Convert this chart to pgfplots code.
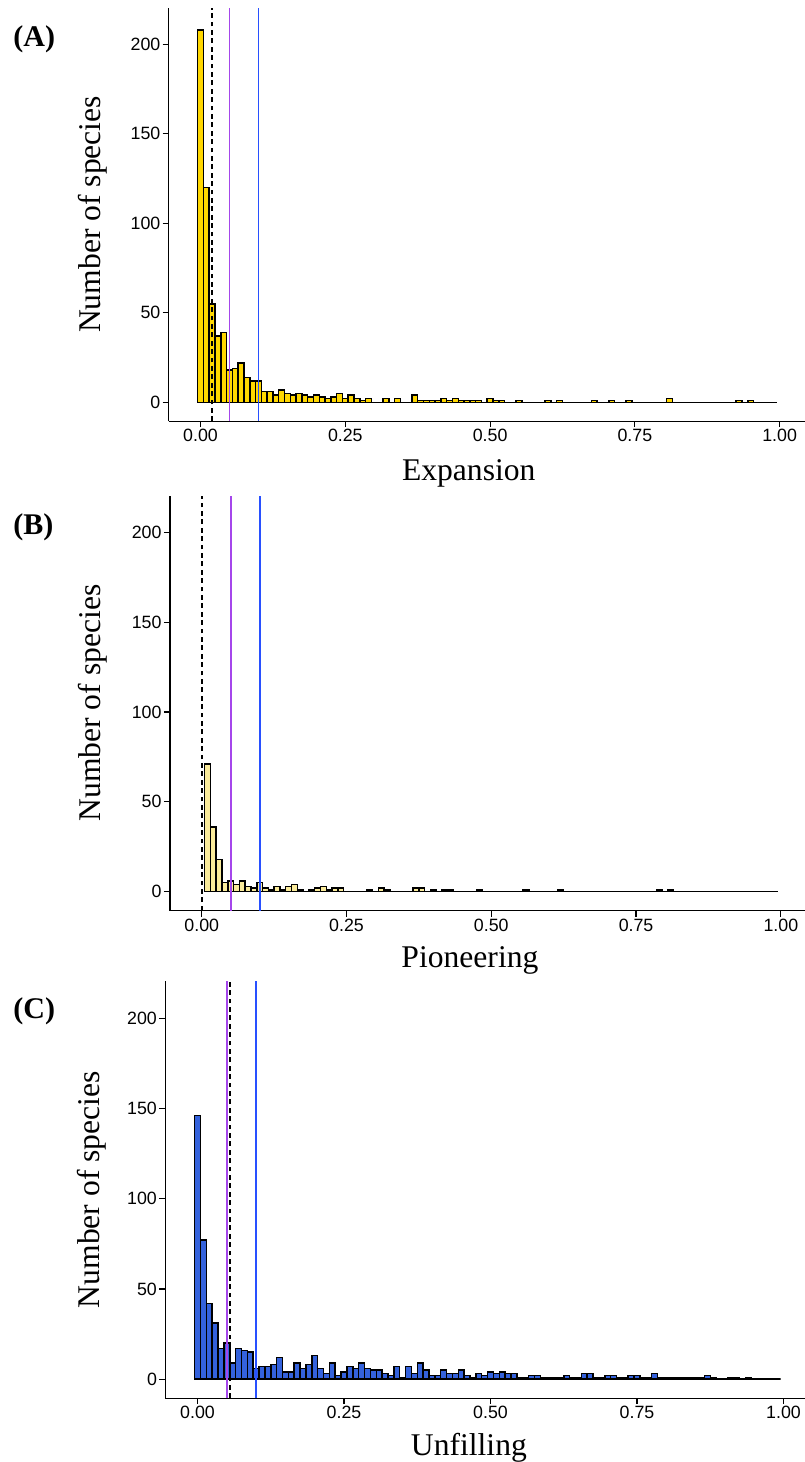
\documentclass[border=0pt]{standalone}
\usepackage{fontspec}
\setmainfont{Liberation Serif}
\newfontfamily\arial{Liberation Sans}
\usepackage{pgfplots}
\usepackage{pgfplotstable}
\pgfplotsset{compat=1.18}

\definecolor{goldA}{RGB}{255,215,0}
\definecolor{paleB}{RGB}{250,235,155}
\definecolor{royalC}{RGB}{52,98,220}
\definecolor{vpurple}{RGB}{165,70,235}
\definecolor{vblue}{RGB}{40,80,255}

% counts per 0.01 bin, x = left edge of the bin
\pgfplotstableread[row sep=\\]{
x n\\
-0.005 208\\ 0.005 120\\ 0.015 55\\ 0.025 37\\ 0.035 39\\ 0.045 18\\ 0.055 19\\ 0.065 22\\ 0.075 14\\ 0.085 12\\
0.095 12\\ 0.105 6\\ 0.115 6\\ 0.125 4\\ 0.135 7\\ 0.145 5\\ 0.155 4\\ 0.165 5\\ 0.175 4\\ 0.185 3\\
0.195 4\\ 0.205 3\\ 0.215 2\\ 0.225 3\\ 0.235 5\\ 0.245 2\\ 0.255 4\\ 0.265 2\\ 0.275 1\\ 0.285 2\\
0.295 0\\ 0.305 0\\ 0.315 2\\ 0.325 0\\ 0.335 2\\ 0.345 0\\ 0.355 0\\ 0.365 4\\ 0.375 1\\ 0.385 1\\
0.395 1\\ 0.405 1\\ 0.415 2\\ 0.425 1\\ 0.435 2\\ 0.445 1\\ 0.455 1\\ 0.465 1\\ 0.475 1\\ 0.485 0\\
0.495 2\\ 0.505 1\\ 0.515 1\\ 0.525 0\\ 0.535 0\\ 0.545 1\\ 0.555 0\\ 0.565 0\\ 0.575 0\\ 0.585 0\\
0.595 1\\ 0.605 0\\ 0.615 1\\ 0.625 0\\ 0.635 0\\ 0.645 0\\ 0.655 0\\ 0.665 0\\ 0.675 1\\ 0.685 0\\
0.695 0\\ 0.705 1\\ 0.715 0\\ 0.725 0\\ 0.735 1\\ 0.745 0\\ 0.755 0\\ 0.765 0\\ 0.775 0\\ 0.785 0\\
0.795 0\\ 0.805 2\\ 0.815 0\\ 0.825 0\\ 0.835 0\\ 0.845 0\\ 0.855 0\\ 0.865 0\\ 0.875 0\\ 0.885 0\\
0.895 0\\ 0.905 0\\ 0.915 0\\ 0.925 1\\ 0.935 0\\ 0.945 1\\ 0.955 0\\ 0.965 0\\ 0.975 0\\ 0.985 0\\
0.995 0\\
}\expansion

\pgfplotstableread[row sep=\\]{
x n\\
0.005 71\\ 0.015 36\\ 0.025 18\\ 0.035 5\\ 0.045 6\\ 0.055 4\\ 0.065 6\\ 0.075 3\\ 0.085 2\\ 0.095 5\\
0.105 2\\ 0.115 1\\ 0.125 3\\ 0.135 1\\ 0.145 3\\ 0.155 4\\ 0.165 1\\ 0.175 0\\ 0.185 1\\ 0.195 2\\
0.205 3\\ 0.215 1\\ 0.225 2\\ 0.235 2\\ 0.245 0\\ 0.255 0\\ 0.265 0\\ 0.275 0\\ 0.285 1\\ 0.295 0\\
0.305 2\\ 0.315 1\\ 0.325 0\\ 0.335 0\\ 0.345 0\\ 0.355 0\\ 0.365 2\\ 0.375 2\\ 0.385 0\\ 0.395 1\\
0.405 0\\ 0.415 1\\ 0.425 1\\ 0.435 0\\ 0.445 0\\ 0.455 0\\ 0.465 0\\ 0.475 1\\ 0.485 0\\ 0.495 0\\
0.505 0\\ 0.515 0\\ 0.525 0\\ 0.535 0\\ 0.545 0\\ 0.555 1\\ 0.565 0\\ 0.575 0\\ 0.585 0\\ 0.595 0\\
0.605 0\\ 0.615 1\\ 0.625 0\\ 0.635 0\\ 0.645 0\\ 0.655 0\\ 0.665 0\\ 0.675 0\\ 0.685 0\\ 0.695 0\\
0.705 0\\ 0.715 0\\ 0.725 0\\ 0.735 0\\ 0.745 0\\ 0.755 0\\ 0.765 0\\ 0.775 0\\ 0.785 1\\ 0.795 0\\
0.805 1\\ 0.815 0\\ 0.825 0\\ 0.835 0\\ 0.845 0\\ 0.855 0\\ 0.865 0\\ 0.875 0\\ 0.885 0\\ 0.895 0\\
0.905 0\\ 0.915 0\\ 0.925 0\\ 0.935 0\\ 0.945 0\\ 0.955 0\\ 0.965 0\\ 0.975 0\\ 0.985 0\\ 0.995 0\\
}\pioneering

\pgfplotstableread[row sep=\\]{
x n\\
-0.005 146\\ 0.005 77\\ 0.015 42\\ 0.025 31\\ 0.035 17\\ 0.045 20\\ 0.055 9\\ 0.065 17\\ 0.075 16\\ 0.085 15\\
0.095 6\\ 0.105 7\\ 0.115 7\\ 0.125 8\\ 0.135 12\\ 0.145 4\\ 0.155 4\\ 0.165 9\\ 0.175 6\\ 0.185 8\\
0.195 13\\ 0.205 6\\ 0.215 3\\ 0.225 9\\ 0.235 2\\ 0.245 4\\ 0.255 7\\ 0.265 6\\ 0.275 9\\ 0.285 6\\
0.295 5\\ 0.305 5\\ 0.315 3\\ 0.325 2\\ 0.335 7\\ 0.345 1\\ 0.355 7\\ 0.365 3\\ 0.375 9\\ 0.385 5\\
0.395 2\\ 0.405 2\\ 0.415 5\\ 0.425 3\\ 0.435 3\\ 0.445 5\\ 0.455 2\\ 0.465 1\\ 0.475 3\\ 0.485 2\\
0.495 4\\ 0.505 3\\ 0.515 4\\ 0.525 3\\ 0.535 3\\ 0.545 1\\ 0.555 1\\ 0.565 2\\ 0.575 2\\ 0.585 1\\
0.595 1\\ 0.605 1\\ 0.615 1\\ 0.625 2\\ 0.635 1\\ 0.645 1\\ 0.655 3\\ 0.665 3\\ 0.675 1\\ 0.685 1\\
0.695 2\\ 0.705 2\\ 0.715 1\\ 0.725 1\\ 0.735 2\\ 0.745 2\\ 0.755 1\\ 0.765 1\\ 0.775 3\\ 0.785 1\\
0.795 1\\ 0.805 1\\ 0.815 1\\ 0.825 1\\ 0.835 1\\ 0.845 1\\ 0.855 1\\ 0.865 2\\ 0.875 1\\ 0.885 0\\
0.895 0\\ 0.905 1\\ 0.915 1\\ 0.925 0\\ 0.935 1\\ 0.945 0\\ 0.955 0\\ 0.965 0\\ 0.975 0\\ 0.985 0\\
0.995 0\\
}\unfilling

\pgfplotsset{
  histo/.style={
    scale only axis, width=318.5pt, height=206.75pt,
    xmin=-0.055, xmax=1.045, ymin=-10.5, ymax=220.5,
    axis x line*=bottom, axis y line*=left,
    axis line style={line width=0.6pt, -},
    xtick={0,0.25,0.5,0.75,1}, xticklabels={0.00,0.25,0.50,0.75,1.00},
    ytick={0,50,100,150,200}, yticklabels={0,50,100,150,200},
    tick align=outside, major tick length=3pt,
    tick style={line width=0.6pt, black},
    tick label style={font=\arial\fontsize{8.9}{10}\selectfont, inner sep=1pt},
    label style={font=\fontsize{15.8}{18}\selectfont},
    ylabel={Number of species},
  },
  bars/.style={ybar interval, draw=black, line width=0.75pt, fill=#1},
  vdash/.style={black, line width=0.95pt, dash pattern=on 2.4pt off 1.8pt},
  vpur/.style={vpurple, line width=0.95pt},
  vblu/.style={vblue, line width=0.95pt},
}

\begin{document}
\begin{tikzpicture}
\useasboundingbox (0,0) rectangle (402pt,-731pt);

% (A) Expansion
\begin{axis}[histo, at={(84.35pt,-210.55pt)}, anchor=south west,
  xlabel={Expansion},
  ylabel style={at={(axis description cs:-0.1078,0.5)}, anchor=base},
  xlabel style={at={(axis description cs:0.471,0)}, anchor=base, yshift=-29.75pt}]
\addplot[bars=goldA] table[x=x, y=n] {\expansion};
\addplot[vdash] coordinates {(0.019,-10.5) (0.019,220.5)};
\addplot[vpur] coordinates {(0.05,-10.5) (0.05,220.5)};
\addplot[vblu] coordinates {(0.10,-10.5) (0.10,220.5)};
\end{axis}

% (B) Pioneering
\begin{axis}[histo, height=207.5pt, at={(84.95pt,-455.25pt)}, anchor=south west,
  xlabel={Pioneering},
  ylabel style={at={(axis description cs:-0.1097,0.5)}, anchor=base},
  xlabel style={at={(axis description cs:0.471,0)}, anchor=base, yshift=-28.5pt}]
\addplot[bars=paleB] table[x=x, y=n] {\pioneering};
\addplot[vdash] coordinates {(0.0005,-10.5) (0.0005,220.5)};
\addplot[vpur] coordinates {(0.05,-10.5) (0.05,220.5)};
\addplot[vblu] coordinates {(0.10,-10.5) (0.10,220.5)};
\end{axis}

% (C) Unfilling
\begin{axis}[histo, width=322.3pt, height=208.5pt, at={(82.65pt,-699.05pt)}, anchor=south west,
  xlabel={Unfilling},
  ylabel style={at={(axis description cs:-0.1013,0.5)}, anchor=base},
  xlabel style={at={(axis description cs:0.471,0)}, anchor=base, yshift=-28.6pt}]
\addplot[bars=royalC] table[x=x, y=n] {\unfilling};
\addplot[vpur] coordinates {(0.05,-10.5) (0.05,220.5)};
\addplot[vdash] coordinates {(0.055,-10.5) (0.055,220.5)};
\addplot[vblu] coordinates {(0.10,-10.5) (0.10,220.5)};
\end{axis}

\node[anchor=base west, inner sep=0pt, font=\bfseries\fontsize{15}{18}\selectfont] at (6.5pt,-23pt) {(A)};
\node[anchor=base west, inner sep=0pt, font=\bfseries\fontsize{15}{18}\selectfont] at (6.5pt,-267pt) {(B)};
\node[anchor=base west, inner sep=0pt, font=\bfseries\fontsize{15}{18}\selectfont] at (6.5pt,-509pt) {(C)};
\end{tikzpicture}
\end{document}
